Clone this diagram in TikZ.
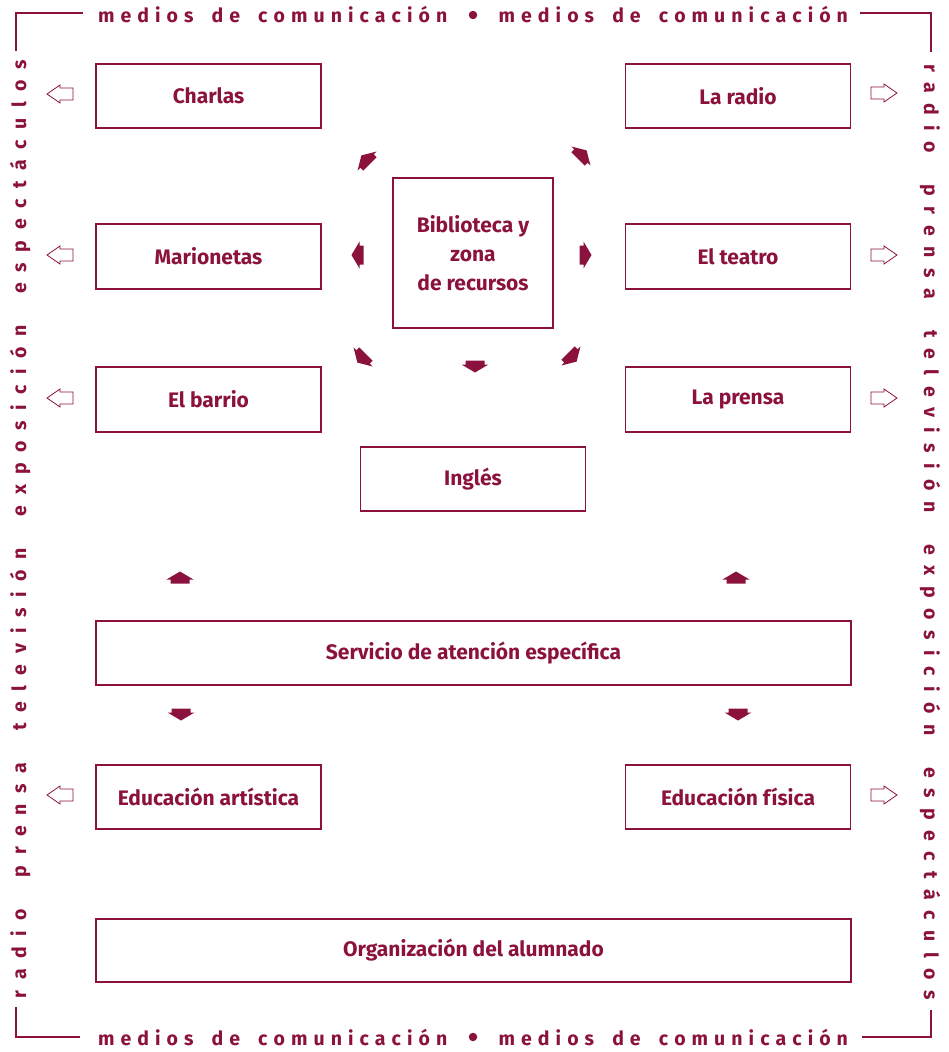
\documentclass[tikz,border=0pt]{standalone}
\usepackage{fontspec}
\setmainfont{Fira Sans}
\definecolor{maroon}{RGB}{140,18,62}
\NewDocumentCommand\bulletgap{}{\hspace*{9pt}}
\ExplSyntaxOn
\seq_new:N \l_my_words_seq
\seq_new:N \l_my_letters_seq
\seq_new:N \l_my_out_seq
\cs_new_protected:Npn \my_spread:nn #1#2
  {
    \seq_set_split:Nnn \l_my_words_seq { ~ } { #2 }
    \seq_clear:N \l_my_out_seq
    \seq_map_inline:Nn \l_my_words_seq
      {
        \seq_clear:N \l_my_letters_seq
        \tl_map_inline:nn { ##1 } { \seq_put_right:Nn \l_my_letters_seq { ####1 } }
        \seq_put_right:Nx \l_my_out_seq { \seq_use:Nn \l_my_letters_seq { \hfil } }
      }
    \makebox[#1][s]{ \seq_use:Nn \l_my_out_seq { \hfil\hfil\hfil } }
  }
\NewDocumentCommand \spreadtext { m m } { \my_spread:nn {#1} {#2} }
\ExplSyntaxOff
\tikzset{
  box/.style={draw=maroon, line width=1.3pt, text=maroon,
    font=\bfseries\fontsize{21}{29}\selectfont, inner sep=0pt,
    minimum width=225pt, minimum height=64pt, align=center},
  widebox/.style={box, minimum width=755pt},
  bordertext/.style={text=maroon, font=\bfseries\fontsize{19.5}{19.5}\selectfont, inner sep=0pt, anchor=base},
  bigdot/.style={circle, fill=maroon, inner sep=0pt, minimum size=8.5pt},
  corner/.style={draw=maroon, line width=1.2pt},
  blockarrow/.pic={\fill[maroon] (0,-6.5) -- (13.5,1.5) -- (9.5,1.5) -- (9.5,5.5) -- (-9.5,5.5) -- (-9.5,1.5) -- (-13.5,1.5) -- cycle;},
  hollowarrow/.pic={\draw[maroon, line width=0.8pt, line join=miter] (0,-6) -- (13,-6) -- (13,-9) -- (26,0) -- (13,9) -- (13,6) -- (0,6) -- cycle;},
}
\begin{document}
\begin{tikzpicture}[x=1pt, y=-1pt]
\useasboundingbox (0,0) rectangle (948,1052);
% frame corners
\draw[corner] (83,13) -- (16,13) -- (16,51);
\draw[corner] (860,13) -- (931,13) -- (931,52);
\draw[corner] (16,1007) -- (16,1037) -- (80,1037);
\draw[corner] (862,1037) -- (931,1037) -- (931,1010);
% border texts
\node[bordertext] (toptext) at (473,23) {\spreadtext{750pt}{medios de comunicación \bulletgap{} medios de comunicación}};
\node[bigdot] (topdot) at (473,15) {};
\node[bordertext] (bottomtext) at (473,1045) {\spreadtext{750pt}{medios de comunicación \bulletgap{} medios de comunicación}};
\node[bigdot] (bottomdot) at (473,1037) {};
\node[bordertext, rotate=90] (lefttext) at (26,529) {\spreadtext{938pt}{radio prensa televisión exposición espectáculos}};
\node[bordertext, rotate=-90] (righttext) at (924,532) {\spreadtext{936pt}{radio prensa televisión exposición espectáculos}};
% boxes
\node[box] (charlas) at (208.5,96) {Charlas};
\node[box] (radio) at (738,96) {La radio};
\node[box, minimum height=65pt] (marionetas) at (208.5,256.5) {Marionetas};
\node[box, minimum height=65pt] (teatro) at (738,256.5) {El teatro};
\node[box, minimum width=160pt, minimum height=150pt] (biblio) at (473,253) {Biblioteca y\\zona\\de recursos};
\node[box, minimum height=65pt] (barrio) at (208.5,399.5) {El barrio};
\node[box, minimum height=65pt] (prensa) at (738,399.5) {La prensa};
\node[box] (ingles) at (473,479) {Inglés};
\node[widebox] (servicio) at (473.5,653) {Servicio de atención específica};
\node[box] (artistica) at (208.5,797) {Educación artística};
\node[box] (fisica) at (738,797) {Educación física};
\node[widebox, minimum height=63pt] (organizacion) at (473.5,950.5) {Organización del alumnado};
% block arrows around the library
\pic[rotate=45] at (366,160) {blockarrow};
\pic[rotate=-45] at (582,155) {blockarrow};
\pic[rotate=90] at (358,255) {blockarrow};
\pic[rotate=-90] at (585,255) {blockarrow};
\pic[rotate=135] at (362,358) {blockarrow};
\pic[rotate=-135] at (572,357) {blockarrow};
\pic[rotate=180] at (475,366) {blockarrow};
% block arrows around the service
\pic at (180,578) {blockarrow};
\pic at (736,578) {blockarrow};
\pic[rotate=180] at (181,714) {blockarrow};
\pic[rotate=180] at (738,714) {blockarrow};
% hollow side arrows
\pic[rotate=180] at (73,94) {hollowarrow};
\pic[rotate=180] at (73,255) {hollowarrow};
\pic[rotate=180] at (73,398) {hollowarrow};
\pic[rotate=180] at (73,795) {hollowarrow};
\pic at (871,93) {hollowarrow};
\pic at (871,255) {hollowarrow};
\pic at (871,398) {hollowarrow};
\pic at (871,795) {hollowarrow};
\end{tikzpicture}
\end{document}
